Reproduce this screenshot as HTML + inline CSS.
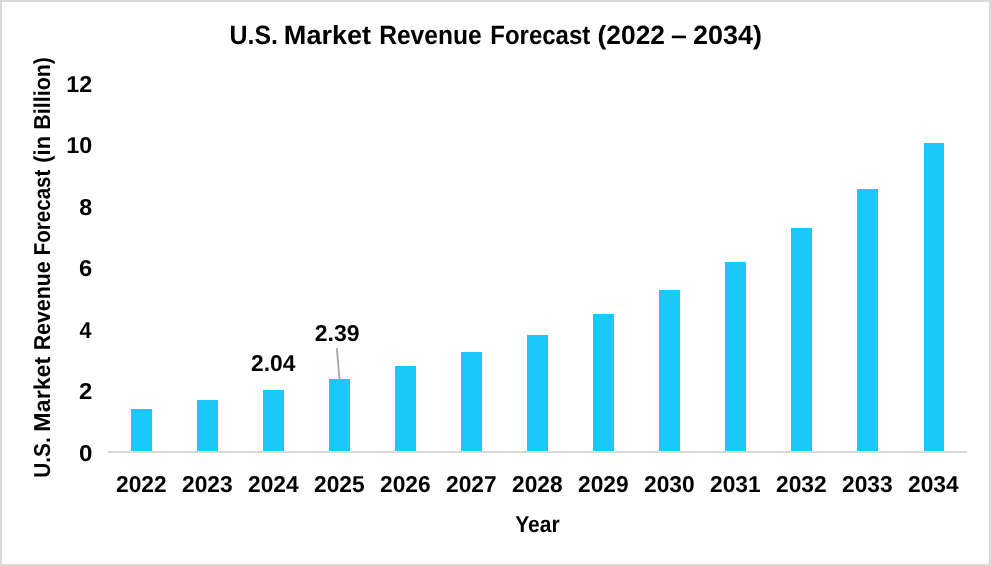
<!DOCTYPE html>
<html lang="en">
<head>
<meta charset="utf-8">
<title>U.S. Market Revenue Forecast (2022 – 2034)</title>
<style>
html,body{margin:0;padding:0;background:#fff;}
body{width:991px;height:566px;overflow:hidden;}
svg{display:block;}
text{font-family:"Liberation Sans", sans-serif;font-weight:bold;fill:#000;text-rendering:geometricPrecision;}
</style>
</head>
<body>
<svg width="991" height="566" viewBox="0 0 991 566">
<rect x="0" y="0" width="991" height="566" fill="#ffffff"/>
<rect x="1" y="1" width="989" height="564" fill="none" stroke="#d9d9d9" stroke-width="2"/>
<rect x="990" y="565" width="1" height="1" fill="#ffffff"/>
<g fill="#1bc8fb" shape-rendering="crispEdges">
<rect x="131" y="409" width="21" height="42"/>
<rect x="197" y="400" width="21" height="51"/>
<rect x="263" y="390" width="21" height="61"/>
<rect x="329" y="379" width="21" height="72"/>
<rect x="395" y="366" width="21" height="85"/>
<rect x="461" y="352" width="21" height="99"/>
<rect x="527" y="335" width="21" height="116"/>
<rect x="593" y="314" width="21" height="137"/>
<rect x="659" y="290" width="21" height="161"/>
<rect x="725" y="262" width="21" height="189"/>
<rect x="791" y="228" width="21" height="223"/>
<rect x="857" y="189" width="21" height="262"/>
<rect x="924" y="143" width="20" height="308"/>
</g>
<rect x="108" y="451" width="859" height="2" fill="#d9d9d9"/>
<line x1="336.8" y1="348.2" x2="339.5" y2="379" stroke="#a6a6a6" stroke-width="1.8"/>
<g font-size="26.4">
<text x="229.5" y="43.6" textLength="48.41" lengthAdjust="spacingAndGlyphs">U.S.</text>
<text x="283.89" y="43.6" textLength="87.24" lengthAdjust="spacingAndGlyphs">Market</text>
<text x="379.15" y="43.6" textLength="102.49" lengthAdjust="spacingAndGlyphs">Revenue</text>
<text x="490.29" y="43.6" textLength="100.0" lengthAdjust="spacingAndGlyphs">Forecast</text>
<text x="597.59" y="43.6" textLength="67.37" lengthAdjust="spacingAndGlyphs">(2022</text>
<text x="670.94" y="43.6" textLength="15.84" lengthAdjust="spacingAndGlyphs">–</text>
<text x="692.97" y="43.6" textLength="68.88" lengthAdjust="spacingAndGlyphs">2034)</text>
</g>
<text x="66.33" y="91.6" font-size="23.0" textLength="25.9" lengthAdjust="spacingAndGlyphs">12</text>
<text x="66.33" y="153.1" font-size="23.0" textLength="25.92" lengthAdjust="spacingAndGlyphs">10</text>
<text x="79.16" y="214.6" font-size="23.0" textLength="12.96" lengthAdjust="spacingAndGlyphs">8</text>
<text x="79.03" y="276.1" font-size="23.0" textLength="13.23" lengthAdjust="spacingAndGlyphs">6</text>
<text x="79.58" y="337.6" font-size="23.0" textLength="11.94" lengthAdjust="spacingAndGlyphs">4</text>
<text x="79.07" y="399.1" font-size="23.0" textLength="13.28" lengthAdjust="spacingAndGlyphs">2</text>
<text x="78.94" y="460.6" font-size="23.0" textLength="13.45" lengthAdjust="spacingAndGlyphs">0</text>
<text x="116.00" y="492.0" font-size="23.0" textLength="50.6" lengthAdjust="spacingAndGlyphs">2022</text>
<text x="182.00" y="492.0" font-size="23.0" textLength="50.6" lengthAdjust="spacingAndGlyphs">2023</text>
<text x="248.00" y="492.0" font-size="23.0" textLength="50.6" lengthAdjust="spacingAndGlyphs">2024</text>
<text x="314.00" y="492.0" font-size="23.0" textLength="50.6" lengthAdjust="spacingAndGlyphs">2025</text>
<text x="380.00" y="492.0" font-size="23.0" textLength="50.6" lengthAdjust="spacingAndGlyphs">2026</text>
<text x="446.00" y="492.0" font-size="23.0" textLength="50.6" lengthAdjust="spacingAndGlyphs">2027</text>
<text x="512.00" y="492.0" font-size="23.0" textLength="50.6" lengthAdjust="spacingAndGlyphs">2028</text>
<text x="578.00" y="492.0" font-size="23.0" textLength="50.6" lengthAdjust="spacingAndGlyphs">2029</text>
<text x="644.00" y="492.0" font-size="23.0" textLength="50.6" lengthAdjust="spacingAndGlyphs">2030</text>
<text x="710.00" y="492.0" font-size="23.0" textLength="50.6" lengthAdjust="spacingAndGlyphs">2031</text>
<text x="776.00" y="492.0" font-size="23.0" textLength="50.6" lengthAdjust="spacingAndGlyphs">2032</text>
<text x="842.00" y="492.0" font-size="23.0" textLength="50.6" lengthAdjust="spacingAndGlyphs">2033</text>
<text x="908.00" y="492.0" font-size="23.0" textLength="50.6" lengthAdjust="spacingAndGlyphs">2034</text>
<text x="251.01" y="371.2" font-size="23.0" textLength="44.31" lengthAdjust="spacingAndGlyphs">2.04</text>
<text x="314.7" y="341.1" font-size="23.0" textLength="44.85" lengthAdjust="spacingAndGlyphs">2.39</text>
<text x="515.14" y="531.9" font-size="23.0" textLength="44.48" lengthAdjust="spacingAndGlyphs">Year</text>
<g font-size="23.0" transform="translate(50.3 0) rotate(-90)">
<text x="-477.75" y="0" textLength="40.59" lengthAdjust="spacingAndGlyphs">U.S.</text>
<text x="-431.65" y="0" textLength="74.89" lengthAdjust="spacingAndGlyphs">Market</text>
<text x="-350.33" y="0" textLength="89.06" lengthAdjust="spacingAndGlyphs">Revenue</text>
<text x="-255.22" y="0" textLength="85.57" lengthAdjust="spacingAndGlyphs">Forecast</text>
<text x="-162.74" y="0" textLength="26.8" lengthAdjust="spacingAndGlyphs">(in</text>
<text x="-129.63" y="0" textLength="72.6" lengthAdjust="spacingAndGlyphs">Billion)</text>
</g>
</svg>
</body>
</html>
